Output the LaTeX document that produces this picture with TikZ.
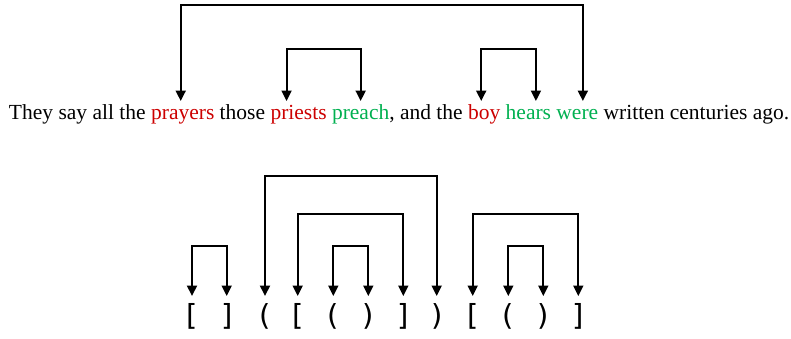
\documentclass[tikz,border=0pt]{standalone}
\usepackage{fontspec}
\setmainfont{Liberation Serif}
\newfontfamily\brfont{DejaVu Sans}
\usetikzlibrary{arrows.meta,calc}
\definecolor{wred}{RGB}{204,0,0}
\definecolor{wgreen}{RGB}{0,176,80}
\begin{document}
\begin{tikzpicture}[x=1pt,y=1pt,
  word/.style={anchor=base west,inner sep=0pt,outer sep=0pt,font=\fontsize{21.5}{24}\selectfont},
  br/.style={anchor=base,inner sep=0pt,font=\brfont\fontsize{29}{31}\selectfont},
  arr/.style={line width=2pt,{Triangle[length=10.5pt,width=10pt]}-{Triangle[length=10.5pt,width=10pt]}}]
\useasboundingbox (0,0) rectangle (791,338);
% sentence
\def\sp{5.375}
\node[word] (w1) at (9,219) {They};
\node[word] (w2) at ($(w1.base east)+(\sp,0)$) {say};
\node[word] (w3) at ($(w2.base east)+(\sp,0)$) {all};
\node[word] (w4) at ($(w3.base east)+(\sp,0)$) {the};
\node[word,text=wred] (prayers) at ($(w4.base east)+(\sp,0)$) {prayers};
\node[word] (w6) at ($(prayers.base east)+(\sp,0)$) {those};
\node[word,text=wred] (priests) at ($(w6.base east)+(\sp,0)$) {priests};
\node[word,text=wgreen] (preach) at ($(priests.base east)+(\sp,0)$) {preach};
\node[word] (comma) at (preach.base east) {,};
\node[word] (w10) at ($(comma.base east)+(\sp,0)$) {and};
\node[word] (w11) at ($(w10.base east)+(\sp,0)$) {the};
\node[word,text=wred] (boy) at ($(w11.base east)+(\sp,0)$) {boy};
\node[word,text=wgreen] (hears) at ($(boy.base east)+(\sp,0)$) {hears};
\node[word,text=wgreen] (were) at ($(hears.base east)+(\sp,0)$) {were};
\node[word] (w15) at ($(were.base east)+(\sp,0)$) {written};
\node[word] (w16) at ($(w15.base east)+(\sp,0)$) {centuries};
\node[word] (w17) at ($(w16.base east)+(\sp,0)$) {ago.};
\coordinate (tipS) at (0,237);
\coordinate (topA) at (0,333);
\coordinate (topB) at (0,289);
\draw[arr] ([xshift=-2pt]prayers.center |- tipS) |- ([xshift=5.5pt]were.center |- topA) -- ([xshift=5.5pt]were.center |- tipS);
\draw[arr] ([xshift=-12pt]priests.center |- tipS) |- (preach.center |- topB) -- (preach.center |- tipS);
\draw[arr] ([xshift=-3pt]boy.center |- tipS) |- ([xshift=7.5pt]hears.center |- topB) -- ([xshift=7.5pt]hears.center |- tipS);
% brackets
\node[br] (b1) at (192,13) {[};
\node[br] (b2) at (226.7,13) {]};
\node[br] (b3) at (265,13) {(};
\node[br] (b4) at (297.7,13) {[};
\node[br] (b5) at (333.3,13) {(};
\node[br] (b6) at (368.3,13) {)};
\node[br] (b7) at (403.3,13) {]};
\node[br] (b8) at (436.7,13) {)};
\node[br] (b9) at (472.7,13) {[};
\node[br] (b10) at (508.3,13) {(};
\node[br] (b11) at (543.3,13) {)};
\node[br] (b12) at (578.3,13) {]};
\coordinate (tipB) at (0,42);
\coordinate (h1) at (0,162.3);
\coordinate (h2) at (0,124);
\coordinate (h3) at (0,92);
\draw[arr] (b1 |- tipB) |- (b2 |- h3) -- (b2 |- tipB);
\draw[arr] (b3 |- tipB) |- (b8 |- h1) -- (b8 |- tipB);
\draw[arr] (b4 |- tipB) |- (b7 |- h2) -- (b7 |- tipB);
\draw[arr] (b5 |- tipB) |- (b6 |- h3) -- (b6 |- tipB);
\draw[arr] (b9 |- tipB) |- (b12 |- h2) -- (b12 |- tipB);
\draw[arr] (b10 |- tipB) |- (b11 |- h3) -- (b11 |- tipB);
\end{tikzpicture}
\end{document}
